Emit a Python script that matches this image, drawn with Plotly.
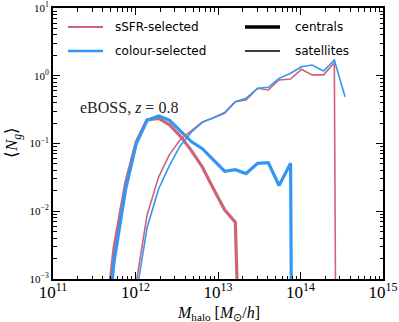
import numpy as np
import plotly.graph_objects as go

# log10 halo-mass bin centres [M_sun/h]
log_mhalo = [11.08, 11.21, 11.34, 11.48, 11.61, 11.74, 11.88, 12.01, 12.14, 12.28,
             12.41, 12.54, 12.68, 12.81, 12.94, 13.08, 13.21, 13.34, 13.48, 13.61,
             13.74, 13.88, 14.01, 14.14, 14.28, 14.41, 14.54]

ssfr_centrals = [0, 0, 0, 0, 1.1e-4, 2.9e-3, 0.026, 0.106, 0.222, 0.235,
                 0.19, 0.13, 0.078, 0.045, 0.022, 0.0105, 0.0069, 0, 0, 0,
                 0, 0, 0, 0, 0, 0, 0]
colour_centrals = [0, 0, 0, 0, 5e-5, 1.8e-3, 0.021, 0.10, 0.22, 0.255,
                   0.222, 0.153, 0.106, 0.084, 0.059, 0.039, 0.041, 0.036, 0.051, 0.052,
                   0.024, 0.051, 0, 0, 0, 0, 0]
ssfr_satellites = [0, 0, 0, 0, 0, 0, 0, 9e-4, 8.8e-3, 0.032,
                   0.068, 0.113, 0.153, 0.208, 0.238, 0.287, 0.414, 0.44, 0.653, 0.617,
                   0.865, 0.895, 1.245, 1.03, 1.03, 1.56, 0]
colour_satellites = [0, 0, 0, 0, 0, 0, 0, 6e-4, 5.7e-3, 0.0213,
                     0.0466, 0.092, 0.148, 0.205, 0.235, 0.279, 0.414, 0.465, 0.653, 0.676,
                     0.916, 1.087, 1.36, 1.44, 1.175, 1.71, 0.49]

x_tickvals = [1e11, 1e12, 1e13, 1e14, 1e15]
x_ticktext = ["10<sup>11</sup>", "10<sup>12</sup>", "10<sup>13</sup>", "10<sup>14</sup>", "10<sup>15</sup>"]
y_tickvals = [1e-3, 1e-2, 1e-1, 1e0, 1e1]
y_ticktext = ["10<sup>\u22123</sup>", "10<sup>\u22122</sup>", "10<sup>\u22121</sup>", "10<sup>0</sup>", "10<sup>1</sup>"]

PINK = "#CC6677"
BLUE = "#3396F5"

mhalo = 10 ** np.array(log_mhalo)


def for_log(v):
    # zero counts are drawn far below the axis, like a clipped log plot
    v = np.array(v, dtype=float)
    return np.where(v > 0, v, 1e-30)


fig = go.Figure()
series = [
    (ssfr_centrals, PINK, 3.2),
    (colour_centrals, BLUE, 3.2),
    (ssfr_satellites, PINK, 1.6),
    (colour_satellites, BLUE, 1.6),
]
for vals, col, w in series:
    fig.add_trace(go.Scatter(x=mhalo, y=for_log(vals), mode="lines",
                             line=dict(color=col, width=w), showlegend=False,
                             hoverinfo="skip"))

serif = "Liberation Serif"
axis_common = dict(
    type="log", showline=True, linecolor="black", linewidth=2, mirror="allticks",
    ticks="inside", ticklen=7, tickwidth=1.2, tickcolor="black", showgrid=False,
    zeroline=False, ticklabeloverflow="allow", automargin=False,
    minor=dict(ticks="inside", ticklen=3.5, tickwidth=1, tickcolor="black",
               dtick="D1", showgrid=False),
)
fig.update_xaxes(range=[11, 15], tickvals=x_tickvals, ticktext=x_ticktext,
                 ticklabelstandoff=-3,
                 tickfont=dict(family=serif, size=17, color="black"), **axis_common)
fig.update_yaxes(range=[-3, 1], tickvals=y_tickvals, ticktext=y_ticktext,
                 tickfont=dict(family=serif, size=11, color="black"), **axis_common)

L, R, T, B = 53, 383, 8, 279
W, H = 399, 322


def px(x):
    return (x - L) / (R - L)


def py(y):
    return (B - y) / (B - T)


shapes = []
annotations = []
legend_items = [
    (68, 103, 27, PINK, 2.2, "sSFR-selected", 113),
    (68, 103, 51, BLUE, 2.6, "colour-selected", 113),
    (245, 280, 27, "black", 3.4, "centrals", 293),
    (245, 280, 51, "black", 1.6, "satellites", 293),
]
for x0, x1, yy, col, w, label, tx in legend_items:
    shapes.append(dict(type="line", xref="paper", yref="paper", x0=px(x0), x1=px(x1),
                       y0=py(yy), y1=py(yy), line=dict(color=col, width=w)))
    annotations.append(dict(xref="paper", yref="paper", x=px(tx), y=py(yy), text=label,
                            showarrow=False, xanchor="left", yanchor="middle",
                            font=dict(family="DejaVu Sans", size=12, color="black")))

annotations.append(dict(xref="paper", yref="paper", x=px(78), y=py(107),
                        text="eBOSS, <i>z</i> = 0.8", showarrow=False,
                        xanchor="left", yanchor="middle",
                        font=dict(family=serif, size=16, color="#222222")))
annotations.append(dict(xref="paper", yref="paper", x=px(218), y=py(313),
                        text="<i>M</i><sub>halo</sub> [<i>M</i><sub>\u2299</sub>/<i>h</i>]",
                        showarrow=False, xanchor="center", yanchor="middle",
                        font=dict(family=serif, size=16, color="black")))
annotations.append(dict(xref="paper", yref="paper", x=px(13), y=py(143),
                        text="\u27e8<i>N</i><sub><i>g</i></sub>\u27e9", textangle=-90,
                        showarrow=False, xanchor="center", yanchor="middle",
                        font=dict(family=serif, size=17, color="black")))

fig.update_layout(
    width=W, height=H, margin=dict(l=L, r=W - R, t=T, b=H - B),
    plot_bgcolor="white", paper_bgcolor="white",
    shapes=shapes, annotations=annotations, showlegend=False,
)

fig.write_html("out.html", config={"displayModeBar": False},
               post_script="document.body.style.margin='0';document.body.style.overflow='hidden';")
